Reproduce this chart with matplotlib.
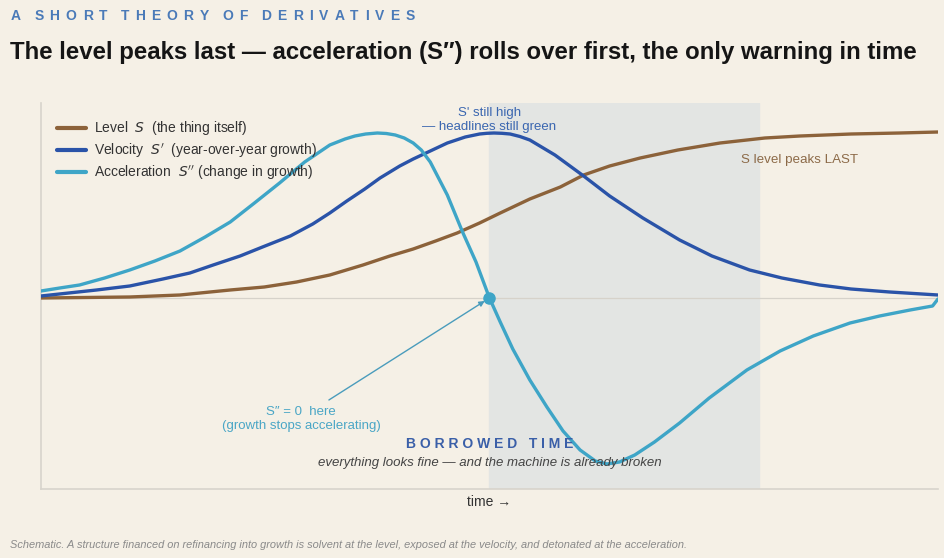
import numpy as np
from matplotlib import pyplot as plt

plt.rcParams['font.family'] = ['Liberation Sans', 'DejaVu Sans']
plt.rcParams['mathtext.fontset'] = 'dejavusans'

# time axis runs 0..100, values in arbitrary schematic units (0 = zero line)
t_acc = [0, 2.1, 4.3, 7.1, 9.9, 12.7, 15.5, 18.3, 21.1, 23.8, 26.6, 29.4, 32.2, 33.9, 35.0,
         36.2, 37.5, 38.5, 39.5, 40.5, 41.5, 42.4, 43.4, 45.3, 47.0, 48.5, 50.0, 51.2, 52.6,
         54.5, 56.4, 58.2, 60.1, 61.8, 63.1, 64.5, 66.2, 68.4, 71.2, 74.5, 78.7, 82.4, 86.1,
         90.2, 93.5, 96.9, 99.4, 100]
acc = [0.07, 0.10, 0.13, 0.20, 0.28, 0.37, 0.47, 0.61, 0.76, 0.95, 1.15, 1.36, 1.53, 1.59, 1.62,
       1.64, 1.65, 1.645, 1.63, 1.60, 1.55, 1.48, 1.36, 1.03, 0.66, 0.36, 0.0, -0.24, -0.51,
       -0.82, -1.09, -1.33, -1.52, -1.63, -1.66, -1.64, -1.57, -1.44, -1.25, -1.00, -0.72, -0.53, -0.38,
       -0.25, -0.18, -0.12, -0.08, -0.01]

t_vel = [0, 6.2, 9.9, 13.6, 16.6, 19.2, 22.2, 24.7, 27.8, 30.3, 32.2, 34.1, 36.1, 37.8, 40.0,
         41.5, 43.4, 45.3, 47.3, 48.1, 48.9, 49.7, 50.5, 51.4, 52.3, 53.4, 54.5, 57.3, 60.5,
         63.4, 67.1, 71.2, 74.8, 79.0, 82.6, 86.8, 90.3, 94.6, 100]
vel = [0.02, 0.08, 0.12, 0.19, 0.25, 0.33, 0.42, 0.51, 0.62, 0.74, 0.85, 0.97, 1.09, 1.20, 1.32,
       1.39, 1.47, 1.55, 1.61, 1.625, 1.64, 1.647, 1.65, 1.647, 1.64, 1.615, 1.58, 1.43, 1.22,
       1.02, 0.80, 0.58, 0.42, 0.28, 0.20, 0.13, 0.09, 0.06, 0.03]

t_lvl = [0, 9.9, 15.5, 21.1, 24.9, 28.5, 32.2, 35.9, 38.9, 41.5, 44.0, 46.4, 48.9, 51.2, 54.5,
         57.9, 60.5, 63.4, 66.8, 71.0, 75.7, 80.7, 84.6, 90.3, 95.7, 100]
lvl = [0.0, 0.01, 0.03, 0.08, 0.11, 0.16, 0.23, 0.33, 0.42, 0.49, 0.57, 0.65, 0.75, 0.85, 0.99,
       1.11, 1.23, 1.32, 1.40, 1.48, 1.55, 1.60, 1.62, 1.64, 1.65, 1.66]

borrowed = (50.0, 80.0)
legend_labels = [r"Level  $S$  (the thing itself)",
                 r"Velocity  $S'$  (year-over-year growth)",
                 r"Acceleration  $S''$ (change in growth)"]

bg = '#f5f0e6'
c_lvl, c_vel, c_acc = '#8c623a', '#2a53a8', '#3ea5c7'
W, H = 944, 558

fig = plt.figure(figsize=(9.44, 5.58), dpi=100, facecolor=bg)
ax = fig.add_axes([0.0434, 0.1237, 0.9502, 0.6917], facecolor=bg)


def tracked(x0, x1, y, s, **kw):
    # letter-spaced text stretched between x0 and x1 (pixels)
    r = fig.canvas.get_renderer()
    words = s.split(' ')
    arts = []
    for w in words:
        row = []
        for ch in w:
            t = fig.text(0, 1 - y / H, ch, ha='left', va='center', **kw)
            row.append((t, t.get_window_extent(r).width))
        arts.append(row)
    n_chars = sum(len(w) for w in words)
    total = sum(wd for row in arts for _, wd in row)
    word_extra = 7
    track = (x1 - x0 - total - word_extra * (len(words) - 1)) / (n_chars - 1)
    x = x0
    for row in arts:
        for t, wd in row:
            t.set_x(x / W)
            x += wd + track
        x += word_extra


ax.axvspan(borrowed[0], borrowed[1], color='#e3e5e3', zorder=0)
ax.axhline(0, color='#d6d2ca', lw=0.9, zorder=1)

ax.plot(t_lvl, lvl, color=c_lvl, lw=2.4, solid_capstyle='round', label=legend_labels[0], zorder=3)
ax.plot(t_vel, vel, color=c_vel, lw=2.4, solid_capstyle='round', label=legend_labels[1], zorder=3)
ax.plot(t_acc, acc, color=c_acc, lw=2.4, solid_capstyle='round', label=legend_labels[2], zorder=3)
ax.plot([50.0], [0.0], 'o', color=c_acc, ms=8, zorder=4)

ax.set_xlim(0, 100)
ax.set_ylim(-1.91, 1.95)
ax.set_xticks([])
ax.set_yticks([])
for s in ['top', 'right']:
    ax.spines[s].set_visible(False)
for s in ['left', 'bottom']:
    ax.spines[s].set_color('#d8d4cc')
    ax.spines[s].set_linewidth(1.2)

leg = ax.legend(loc='upper left', bbox_to_anchor=(0.004, 0.99), frameon=False, fontsize=10,
                handlelength=2.1, handletextpad=0.55, labelspacing=0.3)
for line in leg.get_lines():
    line.set_linewidth(3)
for txt in leg.get_texts():
    txt.set_color('#333333')

ax.text(50.0, 1.78, "S' still high\n— headlines still green", color='#3a66b0', fontsize=9.5,
        ha='center', va='center', linespacing=1.25)
ax.text(78.0, 1.38, "S level peaks LAST", color='#8c6a48', fontsize=9.6, ha='left', va='center')
ax.text(29.0, -1.21, "S″ = 0  here\n(growth stops accelerating)", color='#4aa6c6', fontsize=9.5,
        ha='center', va='center', linespacing=1.25)
ax.annotate("", xy=(50.0, 0.0), xytext=(32.1, -1.02),
            arrowprops=dict(arrowstyle='-|>', color='#4a9cbc', lw=1.0, mutation_scale=8,
                            shrinkA=0, shrinkB=4))
ax.text(50.0, -1.46, "B O R R O W E D   T I M E", color='#3a5fa8', fontsize=10,
        fontweight='bold', ha='center', va='center')
ax.text(50.0, -1.65, "everything looks fine — and the machine is already broken", color='#444444',
        fontsize=9.5, style='italic', ha='center', va='center')
ax.set_xlabel("time →", color='#333333', fontsize=10, labelpad=4)

tracked(11, 415, 16, "A SHORT THEORY OF DERIVATIVES", color='#4a7ab8', fontsize=10,
        fontweight='bold')
fig.text(0.0106, 0.906, "The level peaks last — acceleration (S″) rolls over first, the only warning in time",
         color='#151515', fontsize=17.3, fontweight='bold', ha='left', va='center')
fig.text(0.0106, 0.023, "Schematic. A structure financed on refinancing into growth is solvent at the level, "
         "exposed at the velocity, and detonated at the acceleration.",
         color='#8a8a8a', fontsize=7.9, style='italic', ha='left', va='center')

plt.savefig("out.png", dpi=100, facecolor=bg)
